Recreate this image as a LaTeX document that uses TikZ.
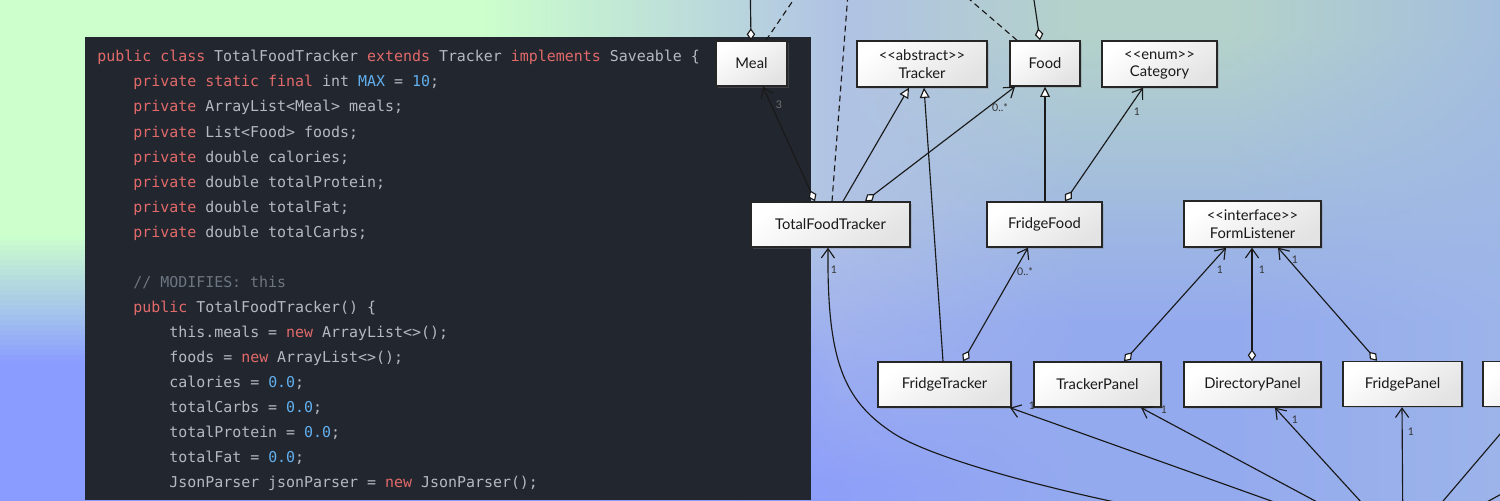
\documentclass[tikz,border=0pt]{standalone}
\usepackage{fontspec}
\setmainfont{Lato}
\newfontfamily\codefont{DejaVu Sans Mono}
\usetikzlibrary{arrows.meta,shadows,calc}
\newlength\pxu
\setlength\pxu{0.02cm}
% background colours (top row / bottom row)
\definecolor{tA}{HTML}{CCFFCC}\definecolor{bA}{HTML}{8A9CFF}
\definecolor{tB}{HTML}{BAD8DC}\definecolor{bB}{HTML}{8B9DFD}
\definecolor{tC}{HTML}{B0C2E4}\definecolor{bC}{HTML}{8E9FF8}
\definecolor{tD}{HTML}{B4D2CA}\definecolor{bD}{HTML}{94AAEE}
\definecolor{tE}{HTML}{A4BEDD}\definecolor{bE}{HTML}{9CB4EA}
\colorlet{k0}{tA}\colorlet{k1}{tB}\colorlet{k2}{tC}\colorlet{k3}{tD}\colorlet{k4}{tE}
\pgfdeclarehorizontalshading[k0,k1,k2,k3,k4]{bgrow}{100bp}{color(0bp)=(k0); color(41bp)=(k0); color(49bp)=(k1); color(53bp)=(k2); color(61bp)=(k3); color(66bp)=(k3); color(75bp)=(k4); color(100bp)=(k4)}
% code colours
\definecolor{panelbg}{HTML}{22262E}
\definecolor{kwc}{HTML}{E26A6A}
\definecolor{txtc}{HTML}{B4B9C2}
\definecolor{numc}{HTML}{61AFEF}
\definecolor{cmtc}{HTML}{6E7682}
\newcommand\kwd[1]{\textcolor{kwc}{#1}}
\newcommand\nmb[1]{\textcolor{numc}{#1}}
\newcommand\cmt[1]{\textcolor{cmtc}{#1}}
\begin{document}
\begin{tikzpicture}[x=0.02cm,y=-0.02cm,
  code/.style={anchor=base west, inner sep=0pt, text=txtc, font=\codefont\fontsize{8.5}{10}\selectfont},
  cls/.style={draw=black!85, line width=0.8pt, top color=white, bottom color=black!11, shading angle=35,
    drop shadow={shadow xshift=1pt, shadow yshift=-1pt, opacity=0.3},
    inner sep=0pt, align=center, text=black!90, font=\fontsize{8.4}{10.2}\selectfont,
    minimum height=45\pxu},
  ln/.style={draw=black!90, line width=0.65pt},
  assoc/.style={ln, -{Straight Barb[length=5.3pt,width=7.5pt]}},
  aggassoc/.style={ln, {Diamond[fill=white,length=6.8pt,width=4.8pt]}-{Straight Barb[length=5.3pt,width=7.5pt]}},
  inherit/.style={ln, -{Triangle[fill=white,length=5.8pt,width=5.6pt]}},
  aggup/.style={ln, {Diamond[fill=white,length=6.8pt,width=4.8pt]}-},
  dep/.style={ln, dash pattern=on 3.4pt off 2.3pt},
  mult/.style={font=\fontsize{6}{7}\selectfont, text=black!80, inner sep=0pt}
]
\useasboundingbox (0,0) rectangle (1500,500);
% background
\foreach \i in {0,...,99}{
  \pgfmathtruncatemacro\pa{min(100,max(0,(5*\i-233)/1.27))}
  \pgfmathtruncatemacro\pc{min(100,max(0,(5*\i-200)/2.8))}
  \pgfmathtruncatemacro\pb{min(100,max(0,(5*\i-30)/2.9))}
  \colorlet{k0}{bA!\pa!tA}
  \colorlet{k1}{bB!\pa!tB}
  \colorlet{k2}{bC!\pc!tC}
  \colorlet{k3}{bD!\pb!tD}
  \colorlet{k4}{bE!\pb!tE}
  \shade[shading=bgrow] (0,5*\i) rectangle (1500,5*\i+6);
}
% code panel
\fill[panelbg] (85,37) rectangle (811,500);
\node[code] (c01) at (97,62) {\kwd{public} \kwd{class} TotalFoodTracker \kwd{extends} Tracker \kwd{implements} Saveable \{};
\node[code] (c02) at (133,87) {\kwd{private} \kwd{static} \kwd{final} int \nmb{MAX} = \nmb{10};};
\node[code] (c03) at (133,112) {\kwd{private} ArrayList<Meal> meals;};
\node[code] (c04) at (133,137) {\kwd{private} List<Food> foods;};
\node[code] (c05) at (133,162) {\kwd{private} double calories;};
\node[code] (c06) at (133,187) {\kwd{private} double totalProtein;};
\node[code] (c07) at (133,212) {\kwd{private} double totalFat;};
\node[code] (c08) at (133,237) {\kwd{private} double totalCarbs;};
\node[code] (c09) at (133,287) {\cmt{// MODIFIES: this}};
\node[code] (c10) at (133,312) {\kwd{public} TotalFoodTracker() \{};
\node[code] (c11) at (169,337) {this.meals = \kwd{new} ArrayList<>();};
\node[code] (c12) at (169,362) {foods = \kwd{new} ArrayList<>();};
\node[code] (c13) at (169,387) {calories = \nmb{0.0};};
\node[code] (c14) at (169,412) {totalCarbs = \nmb{0.0};};
\node[code] (c15) at (169,437) {totalProtein = \nmb{0.0};};
\node[code] (c16) at (169,462) {totalFat = \nmb{0.0};};
\node[code] (c17) at (169,487) {JsonParser jsonParser = \kwd{new} JsonParser();};
% classes
\node[cls, minimum width=71\pxu] (meal) at (751.5,63.5) {Meal};
\node[cls, minimum width=130\pxu, minimum height=46\pxu] (tracker) at (922,64) {<\kern0pt<abstract>\kern0pt>\\Tracker};
\node[cls, minimum width=70\pxu] (food) at (1045,63.5) {Food};
\node[cls, minimum width=115\pxu, minimum height=46\pxu] (cat) at (1159.5,64) {<\kern0pt<enum>\kern0pt>\\Cate\smash{g}or\smash{y}};
\node[cls, minimum width=159\pxu] (tft) at (830.5,224.5) {TotalFoodTracker};
\node[cls, minimum width=115\pxu] (ffood) at (1044.5,224.5) {FridgeFood};
\node[cls, minimum width=137\pxu, minimum height=46\pxu] (fl) at (1252.5,224) {<\kern0pt<interface>\kern0pt>\\FormListener};
\node[cls, minimum width=133\pxu] (ftr) at (944.5,384.5) {FridgeTracker};
\node[cls, minimum width=127\pxu] (tpanel) at (1097.5,384.5) {TrackerPanel};
\node[cls, minimum width=137\pxu] (dpanel) at (1252.5,384.5) {DirectoryPanel};
\node[cls, minimum width=119\pxu] (fpanel) at (1402.5,384) {FridgePanel};
\node[cls, minimum width=130\pxu] (rpart) at (1548,384) {};
% off-canvas ends
\coordinate (hub) at (1403,548);
\coordinate (topA) at (750,-30);
\coordinate (topB) at (807,-20);
\coordinate (topC) at (849,-20);
\coordinate (topD) at (947,-20);
\coordinate (topE) at (1031,-20);
\coordinate (offB) at (1700,385);
% connectors to above
\draw[aggup] (751,0 |- meal.north) -- (topA);
\draw[dep] (766,0 |- meal.north) -- (topB);
\draw[dep] (832,0 |- tft.north) -- (topC);
\draw[dep] (1017,0 |- food.north) -- (topD);
\draw[aggup] (1040,0 |- food.north) -- (topE);
% upper connectors
\draw[aggassoc] (815,0 |- tft.north) -- (763,0 |- meal.south);
\node[mult, text=black!55] (m1) at (779,105) {3};
\draw[inherit] (843,0 |- tft.north) -- (909,0 |- tracker.south);
\draw[aggassoc] (865,0 |- tft.north) -- (1015,0 |- food.south);
\node[mult] (m2) at (1000,108) {0..*};
\draw[inherit] (943,0 |- ftr.north) -- (924,0 |- tracker.south);
\draw[inherit] (1045,0 |- ffood.north) -- (1045,0 |- food.south);
\draw[aggassoc] (1065,0 |- ffood.north) -- (1143,0 |- cat.south);
\node[mult] (m3) at (1137,112) {1};
\draw[aggassoc] (963,0 |- ftr.north) -- (1028,0 |- ffood.south);
\node[mult] (m4) at (1025,272) {0..*};
\draw[aggassoc] (1124,0 |- tpanel.north) -- (1226,0 |- fl.south);
\node[mult] (m5) at (1220,270) {1};
\draw[aggassoc] (1252,0 |- dpanel.north) -- (1252,0 |- fl.south);
\node[mult] (m6) at (1262,270) {1};
\draw[aggassoc] (1377,0 |- fpanel.north) -- (1278,0 |- fl.south);
\node[mult] (m7) at (1295,260) {1};
% lower connectors from hub
\draw[assoc] (hub) .. controls (1150,520) and (943,466) .. (893,433) .. controls (843,400) and (827,360) .. (828,0 |- tft.south);
\node[mult] (m8) at (834,270) {1};
\draw[assoc] (hub) -- (1010,0 |- ftr.south);
\node[mult] (m9) at (1032,406) {1};
\draw[assoc] (hub) -- (1141,0 |- tpanel.south);
\node[mult] (m10) at (1164,410) {1};
\draw[assoc] (hub) -- (1275,0 |- dpanel.south);
\node[mult] (m11) at (1295,420) {1};
\draw[assoc] (hub) -- (1402,0 |- fpanel.south);
\node[mult] (m12) at (1411,432) {1};
\draw[assoc] (hub) -- (1523,0 |- rpart.south);
\draw[ln] (hub) -- (offB);
\end{tikzpicture}
\end{document}
